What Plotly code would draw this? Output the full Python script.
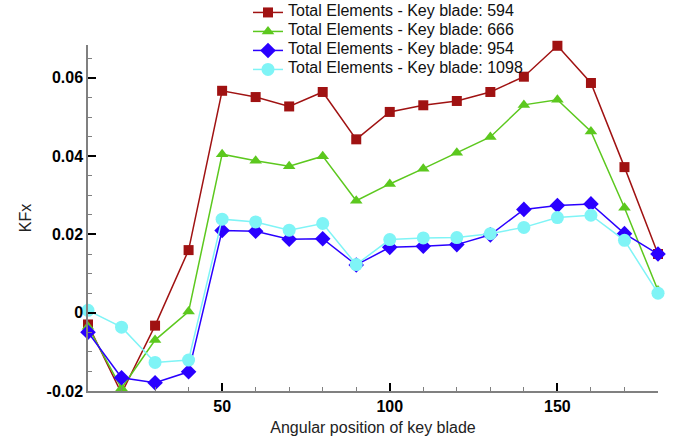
import plotly.graph_objects as go

angles = [10, 20, 30, 40, 50, 60, 70, 80, 90, 100, 110, 120, 130, 140, 150, 160, 170, 180]

kfx_594 = [-0.0030, -0.0206, -0.0033, 0.0160, 0.0567, 0.0551, 0.0527, 0.0564, 0.0443,
           0.0513, 0.0530, 0.0541, 0.0564, 0.0603, 0.0682, 0.0587, 0.0372, 0.0150]
kfx_666 = [-0.0036, -0.0193, -0.0070, 0.0003, 0.0405, 0.0388, 0.0374, 0.0400, 0.0286,
           0.0329, 0.0368, 0.0409, 0.0449, 0.0531, 0.0544, 0.0463, 0.0268, 0.0057]
kfx_954 = [-0.0050, -0.0166, -0.0179, -0.0151, 0.0210, 0.0208, 0.0188, 0.0189, 0.0122,
           0.0167, 0.0170, 0.0174, 0.0199, 0.0264, 0.0274, 0.0278, 0.0202, 0.0150]
kfx_1098 = [0.0006, -0.0037, -0.0127, -0.0121, 0.0239, 0.0232, 0.0211, 0.0228, 0.0123,
            0.0187, 0.0191, 0.0192, 0.0202, 0.0218, 0.0243, 0.0249, 0.0185, 0.0050]

series = [
    ("Total Elements - Key blade: 594", kfx_594, "#A01212", "square", 10),
    ("Total Elements - Key blade: 666", kfx_666, "#5CC81E", "triangle-up", 11),
    ("Total Elements - Key blade: 954", kfx_954, "#2A00FF", "diamond", 12),
    ("Total Elements - Key blade: 1098", kfx_1098, "#7FF4F6", "circle", 13),
]

fig = go.Figure()
for name, vals, color, sym, size in series:
    fig.add_trace(go.Scatter(
        x=angles, y=vals,
        name="<span style='font-size:16px'>" + name + "</span>",
        mode="lines+markers", cliponaxis=False,
        line=dict(color=color, width=1.5),
        marker=dict(symbol=sym, size=size, color=color, line=dict(width=0)),
    ))

FAM = "Liberation Sans, Arial, sans-serif"

fig.update_layout(
    width=677, height=442,
    margin=dict(l=88, r=19, t=45, b=51, autoexpand=False),
    plot_bgcolor="white", paper_bgcolor="white",
    font=dict(family=FAM, color="black"),
    showlegend=True,
    legend=dict(
        x=0.2807, y=1.136, xanchor="left", yanchor="top",
        font=dict(size=10, family=FAM, color="#111"),
        bgcolor="rgba(0,0,0,0)", tracegroupgap=0,
    ),
    xaxis=dict(
        range=[10, 180], tick0=0, dtick=50,
        showgrid=False, zeroline=False,
        showline=True, linecolor="#808080", linewidth=1.5,
        ticks="inside", ticklen=8, tickwidth=2, tickcolor="black",
        minor=dict(dtick=10, ticks="inside", ticklen=4, tickwidth=1, tickcolor="#808080"),
        tickfont=dict(family=FAM, size=16, color="black", weight="bold"),
        title=dict(text="Angular position of key blade",
                   font=dict(family=FAM, size=16, color="#222"),
                   standoff=8),
    ),
    yaxis=dict(
        range=[-0.02, 0.0684],
        tickvals=[-0.02, 0, 0.02, 0.04, 0.06],
        ticktext=["-0.02", "0", "0.02", "0.04", "0.06"],
        showgrid=False, zeroline=False,
        showline=True, linecolor="#808080", linewidth=1.5,
        ticks="inside", ticklen=8, tickwidth=2, tickcolor="black",
        minor=dict(dtick=0.005, tick0=0, ticks="inside", ticklen=4, tickwidth=1, tickcolor="#808080"),
        tickfont=dict(family=FAM, size=16, color="black", weight="bold"),
        title=dict(text="KFx",
                   font=dict(family=FAM, size=16, color="#222"),
                   standoff=11),
    ),
)

fig.write_html("out.html")
